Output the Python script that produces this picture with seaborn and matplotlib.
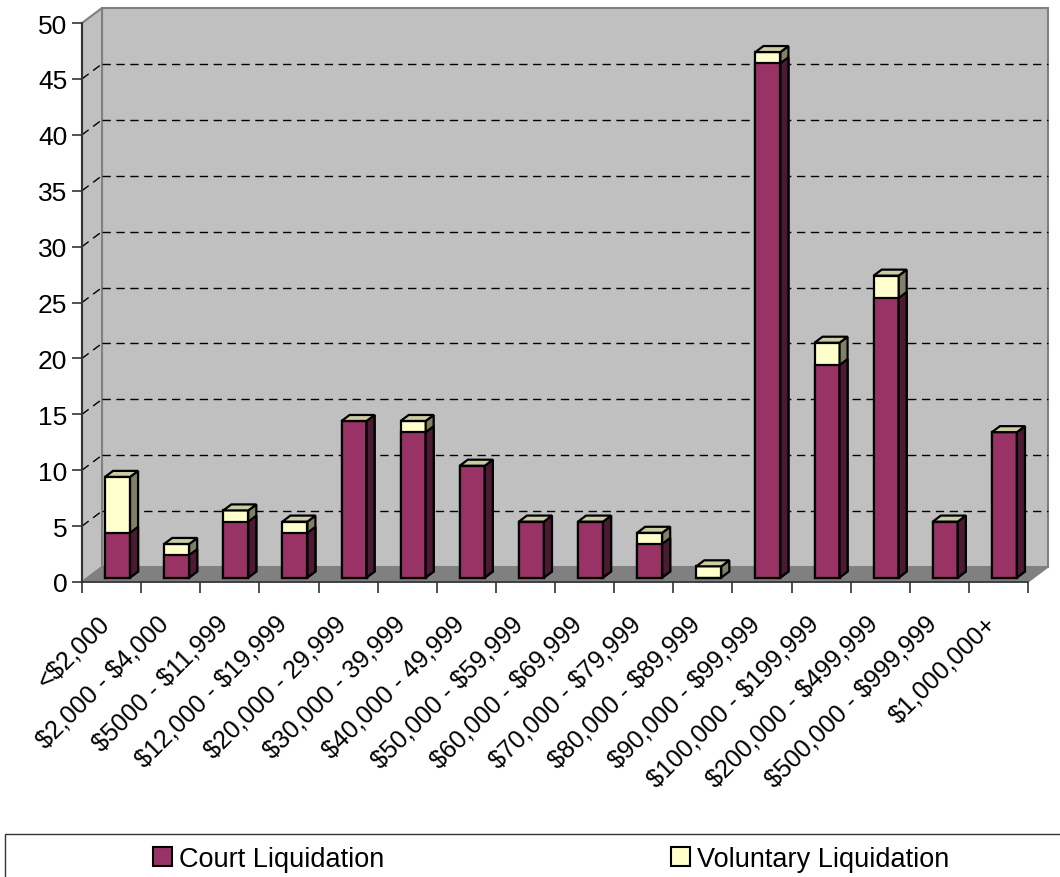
import matplotlib
matplotlib.use("Agg")
import matplotlib.pyplot as plt
import matplotlib.transforms as mtransforms
from matplotlib.patches import Polygon, Rectangle
import numpy as np
import pandas as pd
import seaborn as sns

plt.rcParams['font.family'] = ['Liberation Sans', 'DejaVu Sans']
plt.rcParams['text.parse_math'] = False

categories = ["<$2,000", "$2,000 - $4,000", "$5000 - $11,999", "$12,000 - $19,999",
              "$20,000 - 29,999", "$30,000 - 39,999", "$40,000 - 49,999",
              "$50,000 - $59,999", "$60,000 - $69,999", "$70,000 - $79,999",
              "$80,000 - $89,999", "$90,000 - $99,999", "$100,000 - $199,999",
              "$200,000 - $499,999", "$500,000 - $999,999", "$1,000,000+"]
court = [4, 2, 5, 4, 14, 13, 10, 5, 5, 3, 0, 46, 19, 25, 5, 13]
voluntary = [5, 1, 1, 1, 0, 1, 0, 0, 0, 1, 1, 1, 2, 2, 0, 0]

df = pd.DataFrame({'category': categories, 'court': court, 'voluntary': voluntary})
df['total'] = df['court'] + df['voluntary']

COURT = '#993366'
COURT_SIDE = '#4d1a33'
VOL = '#ffffcc'
VOL_SIDE = '#808066'
VOL_TOP = '#cccca3'
WALL = '#c0c0c0'
FLOOR = '#808080'
FS = 19

DPI = 100
fig = plt.figure(figsize=(10.6, 8.78), dpi=DPI)
W, H = 1060, 878
# front plane of the 3d box, in pixels
left_px, right_px, top_px, bot_px = 82, 1028, 24, 583
ax = fig.add_axes([left_px / W, 1 - bot_px / H, (right_px - left_px) / W, (bot_px - top_px) / H])
ax.set_facecolor('none')

n = len(categories)
ax.set_xlim(-0.5, n - 0.5)
ax.set_ylim(0, 50)

# depth offsets (pixels)
WALL_DX, WALL_DY = 20, 15
BAR_DX, BAR_DY = 6, 4.5
SIDE_DX, SIDE_DY = 8, 6

back = mtransforms.offset_copy(ax.transData, fig=fig, x=WALL_DX, y=WALL_DY, units='dots')
ident = mtransforms.IdentityTransform()


def px(x, y, dx=0, dy=0):
    X, Y = ax.transData.transform((x, y))
    return (X + dx, Y + dy)


# back wall
ax.add_patch(Rectangle((-0.5, 0), n, 50, transform=back, facecolor=WALL,
                       edgecolor='#808080', linewidth=1.5, zorder=0, clip_on=False))
# left wall
ax.add_patch(Polygon([px(-0.5, 0), px(-0.5, 50), px(-0.5, 50, WALL_DX, WALL_DY),
                      px(-0.5, 0, WALL_DX, WALL_DY)], closed=True, transform=ident,
                     facecolor=WALL, edgecolor='#808080', linewidth=1.5, zorder=0.1, clip_on=False))
# floor
ax.add_patch(Polygon([px(-0.5, 0), px(n - 0.5, 0), px(n - 0.5, 0, WALL_DX, WALL_DY),
                      px(-0.5, 0, WALL_DX, WALL_DY)], closed=True, transform=ident,
                     facecolor=FLOOR, edgecolor='#808080', linewidth=1.0, zorder=0.2, clip_on=False))

# gridlines on back wall + left wall
for v in range(5, 50, 5):
    ax.plot([-0.5, n - 0.5], [v, v], transform=back, color='black', lw=1.0,
            dashes=(6, 4), zorder=0.3, clip_on=False)
    p0, p1 = px(-0.5, v), px(-0.5, v, WALL_DX, WALL_DY)
    ax.plot([p0[0], p1[0]], [p0[1], p1[1]], transform=ident, color='black', lw=1.0,
            dashes=(6, 4), zorder=0.3, clip_on=False)

# bars: total (voluntary on top) behind, court in front
sns.barplot(data=df, x='category', y='total', color=VOL, saturation=1, width=0.423,
            edgecolor='black', linewidth=1.6, ax=ax, zorder=2)
n_tot = len(ax.patches)
sns.barplot(data=df, x='category', y='court', color=COURT, saturation=1, width=0.423,
            edgecolor='black', linewidth=1.6, ax=ax, zorder=2.1)
ax.set_xlim(-0.5, n - 0.5)
ax.set_ylim(0, 50)

bar_tr = mtransforms.offset_copy(ax.transData, fig=fig, x=BAR_DX, y=BAR_DY, units='dots')
patches = list(ax.patches)
tot_patches = [p for p in patches[:n_tot] if isinstance(p, Rectangle)][-n:]
court_patches = [p for p in patches[n_tot:] if isinstance(p, Rectangle)]
for p in tot_patches + court_patches:
    p.set_transform(bar_tr)


def bpx(x, y, dx=0, dy=0):
    X, Y = bar_tr.transform((x, y))
    return (X + dx, Y + dy)


for i, p in enumerate(tot_patches):
    x0 = p.get_x()
    w = p.get_width()
    tot = p.get_height()
    c = court[i]
    x1 = x0 + w
    # voluntary side face
    ax.add_patch(Polygon([bpx(x1, 0), bpx(x1, tot), bpx(x1, tot, SIDE_DX, SIDE_DY),
                          bpx(x1, 0, SIDE_DX, SIDE_DY)], closed=True, transform=ident,
                         facecolor=VOL_SIDE, edgecolor='black', linewidth=1.6, zorder=2.2,
                         clip_on=False))
    # court side face
    if c > 0:
        ax.add_patch(Polygon([bpx(x1, 0), bpx(x1, c), bpx(x1, c, SIDE_DX, SIDE_DY),
                              bpx(x1, 0, SIDE_DX, SIDE_DY)], closed=True, transform=ident,
                             facecolor=COURT_SIDE, edgecolor='black', linewidth=1.6,
                             zorder=2.3, clip_on=False))
    # top face
    ax.add_patch(Polygon([bpx(x0, tot), bpx(x1, tot), bpx(x1, tot, SIDE_DX, SIDE_DY),
                          bpx(x0, tot, SIDE_DX, SIDE_DY)], closed=True, transform=ident,
                         facecolor=VOL_TOP, edgecolor='black', linewidth=1.6, zorder=2.4,
                         clip_on=False))

# axes styling
for s in ['top', 'right']:
    ax.spines[s].set_visible(False)
ax.spines['left'].set_color('#333333')
ax.spines['left'].set_linewidth(1.5)
ax.spines['bottom'].set_color('#333333')
ax.spines['bottom'].set_linewidth(1.2)
ax.set_xlabel('')
ax.set_ylabel('')
ax.set_yticks(range(0, 51, 5))
ax.tick_params(axis='y', labelsize=FS, length=7, width=1.2, color='#333333', pad=3.5)
ax.set_xticks(np.arange(-0.5, n, 1.0))
ax.set_xticklabels([])
ax.set_xticks(np.arange(n), minor=True)
ax.set_xticklabels(categories, minor=True, rotation=45, ha='right', va='center',
                   rotation_mode='anchor', fontsize=18)
ax.tick_params(axis='x', which='major', length=8, width=1.2, color='#333333')
ax.tick_params(axis='x', which='minor', length=0, pad=27)
shift = mtransforms.ScaledTranslation(-6 / DPI, 0, fig.dpi_scale_trans)
for lab in ax.get_xticklabels(minor=True):
    lab.set_transform(lab.get_transform() + shift)
ax.grid(False)

# legend
fig.add_artist(Rectangle((5 / W, -0.05), 1.1, 1 - 835 / H + 0.05, transform=fig.transFigure,
                         facecolor='white', edgecolor='#333333', linewidth=1.0))
handles = [Rectangle((0, 0), 1, 1, facecolor=COURT, edgecolor='black', linewidth=1.5),
           Rectangle((0, 0), 1, 1, facecolor=VOL, edgecolor='black', linewidth=1.5)]
fig.legend(handles, ['Court Liquidation', 'Voluntary Liquidation'], ncol=2,
           loc='center left', bbox_to_anchor=(153 / W, 1 - 860 / H), frameon=False,
           fontsize=19.5, handlelength=0.7, handleheight=0.7, handletextpad=0.25,
           columnspacing=10.6, borderpad=0, borderaxespad=0)

fig.savefig('out.png', dpi=DPI)
